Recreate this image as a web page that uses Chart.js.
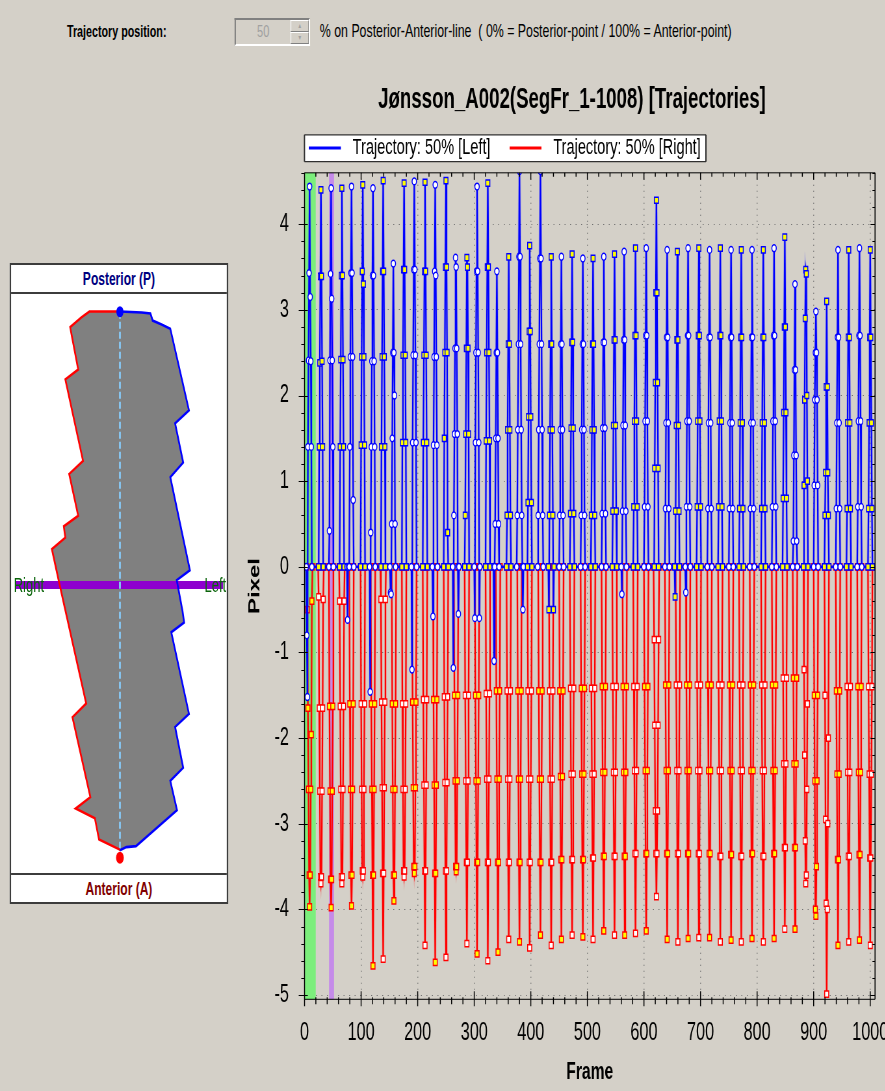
<!DOCTYPE html>
<html>
<head>
<meta charset="utf-8">
<title>Jønsson_A002 Trajectories</title>
<script src="https://cdn.jsdelivr.net/npm/chart.js"></script>
<style>
  html, body { margin: 0; padding: 0; overflow: hidden; background: #d4d0c8; }
  #sheet { position: relative; width: 1362px; height: 1091px; background: #d4d0c8;
           transform: scaleX(0.65); transform-origin: 0 0;
           font-family: 'Liberation Sans', Arial, sans-serif; color: #000; }
  .abs { position: absolute; }
  #posLabel { left: 103px; top: 22px; font-size: 16.5px; font-weight: bold; line-height: 18px; }
  #spin { left: 361px; top: 18px; width: 116px; height: 28px; box-sizing: border-box;
          border: 2px solid; border-color: #808080 #ffffff #ffffff #808080; background: #d4d0c8; }
  #spin .val { position: absolute; left: 0; top: 0; width: 84px; height: 24px; line-height: 24px;
               text-align: center; font-size: 17px; color: #a0a0a0; }
  #spin .btn { position: absolute; left: 84px; width: 28px; height: 12px; box-sizing: border-box;
               border: 1px solid; border-color: #ffffff #808080 #808080 #ffffff; background: #d4d0c8;
               font-size: 7px; line-height: 10px; text-align: center; color: #a0a0a0; }
  #posHint { left: 492px; top: 21px; font-size: 19px; line-height: 20px; white-space: pre; }
  #panel { left: 15px; top: 263px; width: 332px; height: 637px; border: 2px solid #3c3c3c; background: #fff; }
  #panel .cap { position: absolute; left: 0; width: 332px; height: 27px; line-height: 27px;
                text-align: center; font-weight: bold; font-size: 18.5px; }
  #capP { top: 0; color: #000080; border-bottom: 2px solid #3c3c3c; }
  #capA { top: 608px; color: #800000; border-top: 2px solid #3c3c3c; }
  #shape { position: absolute; left: 0; top: 29px; }
  .side { top: 574px; font-size: 20px; line-height: 22px; color: #0a640a; }
  #sideR { left: 21px; }
  #sideL { left: 277px; width: 71px; text-align: right; }
  #traj { left: 369px; top: 80px; }
</style>
</head>
<body>
<div id="sheet">
  <div id="posLabel" class="abs">Trajectory position:</div>
  <div id="spin" class="abs">
    <div class="val">50</div>
    <div class="btn" style="top:0">&#9650;</div>
    <div class="btn" style="top:12px">&#9660;</div>
  </div>
  <div id="posHint" class="abs">% on Posterior-Anterior-line  ( 0% = Posterior-point / 100% = Anterior-point)</div>

  <div id="panel" class="abs">
    <div id="capP" class="cap">Posterior (P)</div>
    <canvas id="shape" width="332" height="579"></canvas>
    <div id="capA" class="cap">Anterior (A)</div>
  </div>
  <div id="sideR" class="abs side">Right</div>
  <div id="sideL" class="abs side">Left</div>

  <canvas id="traj" class="abs" width="993" height="1011"></canvas>
</div>

<script>
// ---------------------------------------------------------------------------
// Trajectory data (pixels). One stride per row: first frame, then one value
// per consecutive frame.
// ---------------------------------------------------------------------------
const leftStrides = [
  [3, 0, -0.8, -1.52, 1.4, 2.41, 3.43, 4.44, 3.15, 2.4, 1.4, 0],
  [25, 0, 1.4, 2.38, 3.39, 4.4, 3.39, 2.4, 1.4, 0],
  [43, 0, 0.42, 2.41, 3.42, 4.42, 3.13, 2.41, 1.4, 0],
  [62, 0, 1.4, 2.42, 3.4, 4.42, 3.4, 2.42, 1.4, 0],
  [79, 0, 1.4, 2.45, 3.43, 4.44, 3.43, 2.45, 0.78, 0],
  [99, 0, 1.42, 2.45, 3.45, 4.46, 3.3, 2.45, 1.42, 0],
  [115, 0, -1.46, 0.4, 1.4, 2.4, 3.4, 4.42, 3.4, 2.4, 1.4, 0],
  [135, 0, 1.4, 2.45, 3.45, 4.51, 3.45, 2.45, 1.4, 0],
  [151, 0, -0.3, -0.32, 0.5, 1.5, 2.5, 3.54, 2.5, 2.0, 0.5, 0],
  [172, 0, 1.45, 2.47, 3.47, 4.48, 3.47, 2.47, 1.45, 0],
  [189, 0, -1.2, 1.45, 2.47, 3.47, 4.5, 3.47, 2.47, 1.45, 0],
  [209, 0, 1.45, 2.47, 3.45, 4.49, 3.45, 2.47, 1.45, 0],
  [226, 0, -0.58, 1.42, 2.45, 3.45, 4.46, 3.4, 2.45, 1.42, 0],
  [246, 0, 1.5, 2.5, 3.5, 4.51, 3.5, 2.5, 0.4, 0],
  [262, 0, -1.18, 0.6, 1.55, 2.55, 3.61, 3.5, 2.55, 1.55, 0, -0.55, 0],
  [283, 0, 0.6, 1.55, 2.55, 3.61, 3.5, 2.55, 1.55, 0],
  [300, 0, -0.6, 1.45, 2.5, 3.45, 4.44, 3.45, 2.5, 1.45, -0.6, 0],
  [320, 0, 1.47, 2.5, 3.5, 4.48, 3.5, 2.5, 1.47, 0],
  [334, 0, -1.1, 0, 0.5, 1.5, 2.5, 3.45, 2.5, 1.5, 0.5, 0],
  [357, 0, 0.6, 1.6, 2.6, 3.62, 2.6, 1.6, 0.6, 0],
  [375, 0, 0.6, 1.6, 2.6, 3.62, 4.62, 3.62, 2.6, 1.6, 0.6, 0, -0.5, 0],
  [394, 0, 0.75, 1.75, 2.75, 3.75, 2.75, 1.75, 0.75, 0],
  [412, 0, 0.6, 1.6, 2.6, 3.6, 4.62, 3.6, 2.6, 1.6, 0.6, 0],
  [431, 0, -0.5, 0.6, 1.6, 2.6, 3.62, 2.6, 1.6, 0.6, -0.5, 0],
  [450, 0, 0.6, 1.6, 2.6, 3.62, 2.6, 1.6, 0.6, 0],
  [469, 0, 0.62, 1.62, 2.62, 3.65, 2.62, 1.62, 0.62, 0],
  [488, 0, 0.6, 1.6, 2.6, 3.6, 2.6, 1.6, 0.6, 0],
  [506, 0, 0.6, 1.6, 2.6, 3.6, 2.6, 1.6, 0.6, 0],
  [525, 0, 0.62, 1.62, 2.62, 3.62, 2.62, 1.62, 0.62, 0],
  [544, 0, 0.65, 1.65, 2.65, 3.65, 2.65, 1.65, 0.65, 0],
  [560, 0, -0.32, 0.65, 1.65, 2.65, 3.68, 2.65, 1.65, 0.65, 0],
  [581, 0, 0.7, 1.7, 2.7, 3.72, 2.7, 1.7, 0.7, 0],
  [600, 0, 0.7, 1.7, 2.7, 3.72, 2.7, 1.7, 0.7, 0],
  [618, 0, 1.15, 2.15, 3.2, 4.28, 3.2, 2.15, 1.15, 0],
  [637, 0, 0.68, 1.68, 2.68, 3.7, 2.68, 1.68, 0.68, 0],
  [654, 0, -0.35, 0.65, 1.65, 2.65, 3.68, 2.65, 1.65, 0.65, 0],
  [673, 0, -0.3, 0.7, 1.7, 2.7, 3.72, 2.7, 1.7, 0.7, 0],
  [693, 0, 0.7, 1.7, 2.7, 3.72, 2.7, 1.7, 0.7, 0],
  [712, 0, 0.68, 1.68, 2.68, 3.7, 2.68, 1.68, 0.68, 0],
  [731, 0, 0.7, 1.7, 2.7, 3.72, 2.7, 1.7, 0.7, 0],
  [750, 0, 0.68, 1.68, 2.68, 3.7, 2.68, 1.68, 0.68, 0],
  [768, 0, 0.68, 1.68, 2.68, 3.7, 2.68, 1.68, 0.68, 0],
  [787, 0, 0.68, 1.68, 2.68, 3.7, 2.68, 1.68, 0.68, 0],
  [807, 0, 0.68, 1.68, 2.68, 3.7, 2.68, 1.68, 0.68, 0],
  [826, 0, 0.7, 1.7, 2.7, 3.72, 2.7, 1.7, 0.7, 0],
  [845, 0, 0.8, 1.8, 2.8, 3.85, 2.8, 1.8, 0.8, 0],
  [863, 0, 0.3, 1.3, 2.3, 3.3, 2.3, 1.3, 0.3, 0],
  [882, 0, 0.95, 1.95, 2.9, 3.47, 3.42, 2.0, 1.0, 0],
  [900, 0, 0.95, 1.95, 2.5, 2.98, 2.5, 1.95, 0.95, 0],
  [919, 0, 0.6, 1.1, 2.1, 3.1, 2.1, 1.1, 0.6, 0],
  [939, 0, 0.68, 1.68, 2.68, 3.7, 2.68, 1.68, 0.68, 0],
  [958, 0, 0.68, 1.68, 2.68, 3.7, 2.68, 1.68, 0.68, 0],
  [977, 0, 0.7, 1.7, 2.7, 3.72, 2.7, 1.7, 0.7, 0],
  [996, 0, 0.68, 1.68, 2.68, 3.7, 2.68, 1.68, 0.68, 0]
];
// Short dips of the left trajectory between strides
const leftDips = [
  [75, 0, -0.62, 0]
];
const rightStrides = [
  [4, 0, -0.5, -1.65, -2.6, -3.6, -3.97, -3.6, -2.6, -1.96, -0.4, 0],
  [24, 0, -0.35, -1.65, -2.62, -3.62, -3.7, -3.62, -2.62, -1.65, -0.38, 0],
  [43, 0, -1.63, -2.62, -3.65, -3.98, -3.65, -2.62, -1.63, 0],
  [61, 0, -0.4, -1.63, -2.6, -3.62, -3.7, -3.62, -2.6, -1.63, -0.4, 0],
  [79, 0, -1.6, -2.6, -3.6, -3.96, -3.6, -2.6, -1.6, 0],
  [99, 0, -1.6, -2.6, -3.55, -3.62, -3.55, -2.6, -1.6, 0],
  [117, 0, -1.6, -2.6, -3.6, -4.66, -3.6, -2.6, -1.6, 0],
  [134, 0, -0.38, -1.58, -2.58, -3.58, -4.58, -3.58, -2.58, -1.58, -0.38, 0],
  [154, 0, -1.6, -2.6, -3.6, -3.9, -3.6, -2.6, -1.6, 0],
  [172, 0, -1.6, -2.6, -3.55, -3.62, -3.55, -2.6, -1.6, 0],
  [190, 0, -1.58, -2.58, -3.5, -3.58, -3.5, -2.58, -1.58, 0],
  [209, 0, -1.55, -2.55, -3.55, -4.42, -3.55, -2.55, -1.55, 0],
  [227, 0, -1.55, -2.55, -3.58, -4.62, -3.58, -2.55, -1.55, 0],
  [246, 0, -1.52, -2.52, -3.55, -4.56, -3.55, -2.52, -1.52, 0],
  [264, 0, -1.5, -2.5, -3.5, -3.56, -3.5, -2.5, -1.5, 0],
  [283, 0, -1.5, -2.5, -3.45, -4.4, -3.45, -2.5, -1.5, 0],
  [301, 0, -1.5, -2.5, -3.45, -4.52, -3.45, -2.5, -1.5, 0],
  [320, 0, -1.48, -2.48, -3.45, -4.6, -3.45, -2.48, -1.48, 0],
  [338, 0, -1.45, -2.48, -3.45, -4.5, -3.45, -2.48, -1.45, 0],
  [357, 0, -1.45, -2.48, -3.45, -4.35, -3.45, -2.48, -1.45, 0],
  [376, 0, -1.45, -2.48, -3.45, -4.38, -3.45, -2.48, -1.45, 0],
  [394, 0, -1.45, -2.48, -3.45, -4.45, -3.45, -2.48, -1.45, 0],
  [413, 0, -1.45, -2.48, -3.45, -4.3, -3.45, -2.48, -1.45, 0],
  [432, 0, -1.45, -2.48, -3.45, -4.42, -3.45, -2.48, -1.45, 0],
  [450, 0, -1.45, -2.45, -3.42, -4.35, -3.42, -2.45, -1.45, 0],
  [469, 0, -1.42, -2.42, -3.42, -4.3, -3.42, -2.42, -1.42, 0],
  [488, 0, -1.42, -2.42, -3.42, -4.32, -3.42, -2.42, -1.42, 0],
  [506, 0, -1.42, -2.42, -3.4, -4.35, -3.4, -2.42, -1.42, 0],
  [525, 0, -1.4, -2.4, -3.38, -4.25, -3.38, -2.4, -1.4, 0],
  [544, 0, -1.4, -2.4, -3.38, -4.3, -3.38, -2.4, -1.4, 0],
  [562, 0, -1.4, -2.4, -3.38, -4.3, -3.38, -2.4, -1.4, 0],
  [581, 0, -1.4, -2.38, -3.35, -4.28, -3.35, -2.38, -1.4, 0],
  [600, 0, -1.4, -2.38, -3.35, -4.25, -3.35, -2.38, -1.4, 0],
  [617, 0, -0.85, -1.85, -2.85, -3.35, -3.85, -3.35, -2.85, -1.85, -0.85, 0],
  [637, 0, -1.38, -2.38, -3.35, -4.35, -3.35, -2.38, -1.38, 0],
  [656, 0, -1.38, -2.38, -3.35, -4.38, -3.35, -2.38, -1.38, 0],
  [674, 0, -1.38, -2.38, -3.35, -4.34, -3.35, -2.38, -1.38, 0],
  [693, 0, -1.38, -2.38, -3.35, -4.33, -3.35, -2.38, -1.38, 0],
  [712, 0, -1.38, -2.38, -3.35, -4.33, -3.35, -2.38, -1.38, 0],
  [731, 0, -1.38, -2.38, -3.38, -4.38, -3.38, -2.38, -1.38, 0],
  [750, 0, -1.38, -2.38, -3.36, -4.36, -3.36, -2.38, -1.38, 0],
  [768, 0, -1.38, -2.38, -3.38, -4.38, -3.38, -2.38, -1.38, 0],
  [787, 0, -1.38, -2.38, -3.35, -4.34, -3.35, -2.38, -1.38, 0],
  [807, 0, -1.38, -2.38, -3.38, -4.38, -3.38, -2.38, -1.38, 0],
  [826, 0, -1.38, -2.38, -3.35, -4.34, -3.35, -2.38, -1.38, 0],
  [845, 0, -1.3, -2.3, -3.28, -4.23, -3.28, -2.3, -1.3, 0],
  [863, 0, -1.3, -2.3, -3.28, -4.23, -3.28, -2.3, -1.3, 0],
  [882, 0, -1.2, -2.2, -3.2, -3.7, -3.6, -2.6, -1.6, 0],
  [900, 0, -1.5, -2.5, -4.0, -4.08, -3.5, -2.5, -1.5, 0],
  [919, 0, -1.5, -2.95, -3.93, -4.99, -4.0, -3.0, -2.0, 0],
  [939, 0, -1.45, -2.42, -3.42, -4.42, -3.42, -2.42, -1.45, 0],
  [958, 0, -1.4, -2.4, -3.38, -4.38, -3.38, -2.4, -1.4, 0],
  [977, 0, -1.4, -2.4, -3.36, -4.36, -3.36, -2.4, -1.4, 0],
  [996, 0, -1.4, -2.42, -3.4, -4.42, -3.4, -2.42, -1.4, 0]
];

// Frame spans shaded on the plot: analysed segment start and current frame
const segmentSpan = [0, 19.8];
const cursorSpan = [43.3, 52.1];

// Axes
const frameRange = [0, 1008.5];
const pixelRange = [-5.05, 4.6];
const frameTicks = [0, 100, 200, 300, 400, 500, 600, 700, 800, 900, 1000];
const pixelTicks = [-5, -4, -3, -2, -1, 0, 1, 2, 3, 4];
const frameMinorStep = 20, pixelMinorStep = 0.2;
const seriesLabels = ['Trajectory: 50% [Left]', 'Trajectory: 50% [Right]'];
const chartTitle = 'Jønsson_A002(SegFr_1-1008) [Trajectories]';

// Segment outline in the side panel (panel pixels, origin top-left).
const leftEdge = [
  [109, 11.7], [131.7, 12.7], [140.7, 13.7], [143, 21], [152.3, 25], [161.3, 29.3],
  [180.7, 112.7], [166.3, 126], [174.7, 166], [161.3, 181], [181.7, 276], [168, 286],
  [174, 317.7], [175.7, 329.3], [162.3, 339.3], [180.7, 422.7], [166.3, 436],
  [174.7, 477.7], [161.3, 491], [168.3, 521], [125.7, 557.7], [115.7, 558.7], [109, 562]
];
const rightEdge = [
  [109, 11.7], [77.3, 11.7], [69, 17.7], [57.3, 27.7], [65.7, 71], [52.3, 81],
  [70.7, 164.3], [56.3, 177.7], [65.7, 220.3], [50.7, 231], [52.3, 242.7], [38.3, 254.3],
  [45.7, 287.7], [74, 412], [59.7, 426], [78.3, 507.7], [63, 519.3], [83, 529.3],
  [87.3, 551], [108.3, 561], [109, 562]
];
const posteriorPoint = [109, 12];
const anteriorPoint = [109, 569.5];
const midline = [[109, 12], [109, 562]];
const lateralLine = [[0, 291], [216, 291]];
const panelExtent = { x: [0, 216], y: [0, 579] };

// ---------------------------------------------------------------------------
const FONT = "'Liberation Sans', Arial, sans-serif";
Chart.defaults.font.family = FONT;
Chart.defaults.color = '#000';

function strideSeries(strides, dips) {
  const points = [];
  strides.forEach((row, k) => {
    for (let i = 1; i < row.length; i++) points.push({ x: row[0] + i - 1, y: row[i], k });
  });
  (dips || []).forEach(row => {
    for (let i = 1; i < row.length; i++) points.push({ x: row[0] + i - 1, y: row[i], k: -2 });
  });
  return points.sort((a, b) => a.x - b.x);
}
const leftPoints = strideSeries(leftStrides, leftDips);
const rightPoints = strideSeries(rightStrides);

// marker look alternates from stride to stride
const leftOdd = c => c.raw && c.raw.k >= 0 && c.raw.k % 2 === 1;
const rightEven = c => c.raw && c.raw.k % 2 === 0;

function legendGlyph(color) {
  const c = document.createElement('canvas');
  c.width = 56; c.height = 4;
  const g = c.getContext('2d');
  g.fillStyle = color;
  g.fillRect(0, 0.5, 49, 3);
  return c;
}
const glyphs = [legendGlyph('#0000ff'), legendGlyph('#ff0000')];

// Title / legend placement and the legend frame
const LEGEND_ITEM_X = 106.4, LEGEND_ROW_TOP = 56.8, LEGEND_BLOCK = 51.4, TITLE_SHIFT = 22.4;
const headerPlacement = {
  id: 'headerPlacement',
  beforeLayout(chart) {
    const lg = chart.legend;
    if (lg && !lg.__fixed) {
      const fit = lg.fit;
      lg.fit = function () { fit.call(this); this.height = LEGEND_BLOCK; };
      lg.__fixed = true;
    }
  },
  afterLayout(chart) {
    const lg = chart.legend, tb = chart.titleBlock;
    const p = lg.options.labels.padding;
    const w = lg.right - lg.left;
    lg.left = LEGEND_ITEM_X - p; lg.right = lg.left + w;
    lg.top = LEGEND_ROW_TOP - p; lg.bottom = LEGEND_ROW_TOP + 30;
    tb.left += TITLE_SHIFT; tb.right += TITLE_SHIFT;
  },
  beforeDraw(chart) {
    const hb = chart.legend.legendHitBoxes;
    if (!hb || !hb.length) return;
    const last = hb[hb.length - 1];
    const ctx = chart.ctx;
    const x0 = hb[0].left - 7, x1 = last.left + last.width + 8;
    const y0 = hb[0].top - 2, y1 = hb[0].top + hb[0].height + 2.5;
    ctx.save();
    ctx.fillStyle = '#fff';
    ctx.fillRect(x0, y0, x1 - x0, y1 - y0);
    ctx.strokeStyle = '#303030';
    ctx.lineWidth = 1.2;
    ctx.beginPath(); ctx.moveTo(x0, y0); ctx.lineTo(x1, y0); ctx.moveTo(x0, y1); ctx.lineTo(x1, y1); ctx.stroke();
    ctx.lineWidth = 2;
    ctx.beginPath(); ctx.moveTo(x0, y0); ctx.lineTo(x0, y1); ctx.moveTo(x1, y0); ctx.lineTo(x1, y1); ctx.stroke();
    ctx.restore();
  }
};

// Shaded frame spans, plot frame and the tick marks on all four sides
const axisFrame = {
  id: 'axisFrame',
  beforeDatasetsDraw(chart) {
    const { ctx, chartArea: a, scales: { x } } = chart;
    ctx.save();
    [[segmentSpan, '#7cee7c'], [cursorSpan, '#c58be9']].forEach(([span, color]) => {
      const x0 = x.getPixelForValue(span[0]), x1 = x.getPixelForValue(span[1]);
      ctx.fillStyle = color;
      ctx.fillRect(x0, a.top, x1 - x0, a.bottom - a.top);
    });
    ctx.restore();
  },
  afterDatasetsDraw(chart) {
    const { ctx, chartArea: a, scales: { x, y } } = chart;
    ctx.save();
    ctx.strokeStyle = '#000';
    const seg = (x0, y0, x1, y1) => { ctx.moveTo(x0, y0); ctx.lineTo(x1, y1); };
    // vertical strokes: side borders and frame ticks
    ctx.lineWidth = 1.5;
    ctx.beginPath();
    seg(a.left, a.top, a.left, a.bottom);
    seg(a.right, a.top, a.right, a.bottom);
    const nx = Math.floor(frameRange[1] / frameMinorStep);
    for (let n = 0; n <= nx; n++) {
      const f = n * frameMinorStep;
      const px = x.getPixelForValue(f);
      const major = frameTicks.includes(f);
      seg(px, a.bottom - (major ? 8 : 2), px, a.bottom + (major ? 7 : 5));
      seg(px, a.top, px, a.top + (major ? 7 : 4));
    }
    ctx.stroke();
    // horizontal strokes: top/bottom borders and pixel ticks
    ctx.lineWidth = 1;
    ctx.beginPath();
    seg(a.left, a.top, a.right, a.top);
    seg(a.left, a.bottom, a.right, a.bottom);
    const n0 = Math.ceil(pixelRange[0] / pixelMinorStep - 1e-6);
    const n1 = Math.floor(pixelRange[1] / pixelMinorStep + 1e-6);
    for (let n = n0; n <= n1; n++) {
      const v = Math.round(n * pixelMinorStep * 10) / 10;
      const py = Math.round(y.getPixelForValue(v)) + 0.5;
      const major = pixelTicks.includes(v);
      seg(a.left - (major ? 9 : 5), py, a.left + (major ? 5 : 0), py);
      seg(a.right - (major ? 7 : 4), py, a.right, py);
    }
    ctx.stroke();
    ctx.restore();
  }
};

new Chart(document.getElementById('traj'), {
  type: 'line',
  data: {
    datasets: [
      {
        label: seriesLabels[0], data: leftPoints.slice(), order: 0,
        borderColor: '#0000ff', borderWidth: 2.2,
        pointStyle: c => leftOdd(c) ? 'rect' : 'circle',
        pointRadius: c => leftOdd(c) ? 4.4 : 3.4,
        pointBackgroundColor: c => leftOdd(c) ? '#ffff00' : '#ffffff',
        pointBorderColor: '#0000ff', pointBorderWidth: 1.5
      },
      {
        label: 'left-halo', data: leftPoints.slice(), order: 1,
        borderColor: 'rgba(60,60,255,0.25)', borderWidth: 4, pointRadius: 0
      },
      {
        label: seriesLabels[1], data: rightPoints.slice(), order: 2,
        borderColor: '#ff0000', borderWidth: 2.2,
        pointStyle: 'rect', pointRadius: 4.4,
        pointBackgroundColor: c => rightEven(c) ? '#ffff00' : '#ffffff',
        pointBorderColor: '#ff0000', pointBorderWidth: 1.5
      },
      {
        label: 'right-halo', data: rightPoints.slice(), order: 3,
        borderColor: 'rgba(255,60,60,0.25)', borderWidth: 4, pointRadius: 0
      }
    ]
  },
  options: {
    responsive: false,
    animation: false,
    events: [],
    layout: { padding: { left: 0, right: 15.8, top: 0, bottom: 0 } },
    plugins: {
      tooltip: { enabled: false },
      title: {
        display: true, text: chartTitle, color: '#000',
        font: { size: 28.7, weight: 'bold' }, padding: { top: 3, bottom: 4 }
      },
      legend: {
        display: true, position: 'top', align: 'start',
        labels: {
          usePointStyle: true, pointStyleWidth: 56, padding: 29.4,
          font: { size: 22.4 }, color: '#000',
          generateLabels: () => seriesLabels.map((text, i) => ({
            text, pointStyle: glyphs[i], fillStyle: i ? '#ff0000' : '#0000ff',
            strokeStyle: i ? '#ff0000' : '#0000ff', lineWidth: 0, hidden: false,
            datasetIndex: i * 2, fontColor: '#000'
          }))
        }
      }
    },
    scales: {
      x: {
        type: 'linear', min: frameRange[0], max: frameRange[1],
        afterFit: s => { s.height = 91.7; s.paddingLeft = 0; s.paddingRight = 0; },
        afterBuildTicks: s => { s.ticks = frameTicks.map(value => ({ value })); },
        ticks: { padding: 19, maxRotation: 0, autoSkip: false,
                 font: { size: 25 }, color: '#000', callback: v => String(v) },
        grid: { color: '#707070', lineWidth: 1.5, drawTicks: false },
        border: { display: false, dash: [1, 5] },
        title: { display: true, text: 'Frame', color: '#000',
                 font: { size: 24, weight: 'bold' }, padding: { top: 0, bottom: 4.6 } }
      },
      y: {
        type: 'linear', min: pixelRange[0], max: pixelRange[1],
        afterFit: s => { s.width = 99.5; s.paddingTop = 0; s.paddingBottom = 0; },
        afterBuildTicks: s => { s.ticks = pixelTicks.map(value => ({ value })); },
        ticks: { padding: 24, font: { size: 25 }, color: '#000', callback: v => String(v) },
        grid: { color: '#707070', lineWidth: 1, drawTicks: false },
        border: { display: false, dash: [1.5, 7] },
        title: { display: true, text: 'Pixel', color: '#000',
                 font: { size: 24, weight: 'bold' }, padding: { top: 8.9, bottom: 0 } }
      }
    }
  },
  plugins: [headerPlacement, axisFrame]
});

// Side panel: segment outline with the posterior-anterior line
const toXY = pts => pts.map(([x, y]) => ({ x, y }));
const outline = toXY(leftEdge.concat(rightEdge.slice().reverse()));
new Chart(document.getElementById('shape'), {
  type: 'scatter',
  data: {
    datasets: [
      { data: toXY([posteriorPoint]), order: 0, pointRadius: 5.5,
        pointBackgroundColor: '#0000ff', pointBorderWidth: 0 },
      { data: toXY([anteriorPoint]), order: 0, pointRadius: 6,
        pointBackgroundColor: '#ff0000', pointBorderWidth: 0 },
      { data: toXY(leftEdge), order: 1, showLine: true, borderColor: '#0000ff', borderWidth: 2.6, pointRadius: 0 },
      { data: toXY(rightEdge), order: 1, showLine: true, borderColor: '#ff0000', borderWidth: 2.6, pointRadius: 0 },
      { data: toXY(midline), order: 2, showLine: true, borderColor: '#86c4ee', borderWidth: 3,
        borderDash: [7, 3], pointRadius: 0 },
      { data: toXY(lateralLine), order: 3, showLine: true, borderColor: '#8e00cf', borderWidth: 8, pointRadius: 0 },
      { data: outline, order: 4, showLine: true, fill: 'shape', backgroundColor: '#808080',
        borderWidth: 0, pointRadius: 0 }
    ]
  },
  options: {
    responsive: false, animation: false, events: [],
    layout: { padding: 0 },
    plugins: { legend: { display: false }, tooltip: { enabled: false } },
    scales: {
      x: { type: 'linear', display: false, min: panelExtent.x[0], max: panelExtent.x[1] },
      y: { type: 'linear', display: false, min: panelExtent.y[0], max: panelExtent.y[1], reverse: true }
    }
  }
});
</script>
</body>
</html>
